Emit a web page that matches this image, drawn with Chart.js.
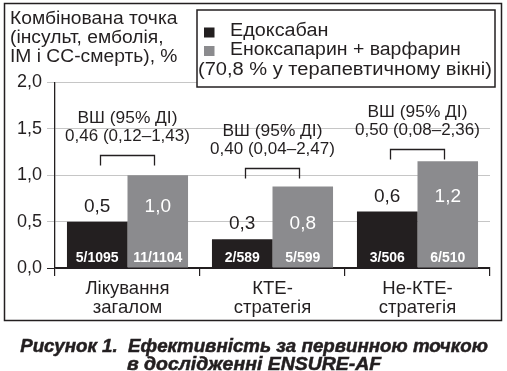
<!DOCTYPE html>
<html>
<head>
<meta charset="utf-8">
<script src="https://cdn.jsdelivr.net/npm/chart.js@4"></script>
<style>
  html, body { margin: 0; padding: 0; background: #fff; }
  canvas { display: block; }
</style>
</head>
<body>
<canvas id="chart" width="507" height="371"></canvas>
<script>
// data
const categories = [['Лікування', 'загалом'], ['КТЕ-', 'стратегія'], ['Не-КТЕ-', 'стратегія']];
const edoxaban = [0.5, 0.31, 0.61];
const enoxWarfarin = [1.0, 0.88, 1.15];
const edoxLabels = ['0,5', '0,3', '0,6'];
const enoxLabels = ['1,0', '0,8', '1,2'];
const edoxEvents = ['5/1095', '2/589', '3/506'];
const enoxEvents = ['11/1104', '5/599', '6/510'];
const orValues = ['0,46 (0,12–1,43)', '0,40 (0,04–2,47)', '0,50 (0,08–2,36)'];
const bracketLevel = [1.22, 1.08, 1.28];
const yTicks = [0, 0.5, 1, 1.5, 2];

const dark = '#231f20';
const grey = '#8b8b8e';
const FONT = '"Liberation Sans", Arial, sans-serif';

// text drawn a bit wider, the print font is broader than Arial
function wideText(ctx, txt, x, y, sx) {
  ctx.save();
  ctx.translate(x, y);
  ctx.scale(sx, 1);
  ctx.fillText(txt, 0, 0);
  ctx.restore();
}

const overlay = {
  id: 'overlay',
  afterDatasetsDraw(chart) {
    const ctx = chart.ctx;
    const x = chart.scales.x, y = chart.scales.y;
    const m0 = chart.getDatasetMeta(0), m1 = chart.getDatasetMeta(1);
    ctx.save();
    ctx.textAlign = 'center';
    ctx.textBaseline = 'middle';
    categories.forEach((c, i) => {
      const b0 = m0.data[i], b1 = m1.data[i];
      const ly = b0.y - 15;
      ctx.font = '19px ' + FONT;
      ctx.fillStyle = dark;
      ctx.fillText(edoxLabels[i], b0.x, ly);
      ctx.fillStyle = '#fff';
      ctx.fillText(enoxLabels[i], b1.x, ly);
      ctx.font = 'bold 14px ' + FONT;
      ctx.fillText(edoxEvents[i], b0.x, y.bottom - 10);
      ctx.fillText(enoxEvents[i], b1.x, y.bottom - 10);

      // OR bracket
      const cx = x.getPixelForValue(i);
      const by = Math.round(y.getPixelForValue(bracketLevel[i])) + 0.5;
      ctx.strokeStyle = dark;
      ctx.lineWidth = 1.3;
      ctx.beginPath();
      ctx.moveTo(cx - 27, by + 10);
      ctx.lineTo(cx - 27, by);
      ctx.lineTo(cx + 27, by);
      ctx.lineTo(cx + 27, by + 10);
      ctx.stroke();
      ctx.font = '17px ' + FONT;
      ctx.fillStyle = dark;
      wideText(ctx, 'ВШ (95% ДІ)', cx, by - 37.5, 1.02);
      ctx.fillText(orValues[i], cx, by - 19);
    });
    ctx.restore();
  },
  afterDraw(chart) {
    const ctx = chart.ctx;
    ctx.save();
    // outer frame
    ctx.strokeStyle = dark;
    ctx.lineWidth = 1.5;
    ctx.strokeRect(4.5, 3.5, 497, 317);

    // y title
    ctx.fillStyle = dark;
    ctx.textAlign = 'left';
    ctx.textBaseline = 'alphabetic';
    ctx.font = '17.5px ' + FONT;
    wideText(ctx, 'Комбінована точка', 10, 23.5, 1.1);
    wideText(ctx, '(інсульт, емболія,', 10, 42.5, 1.1);
    wideText(ctx, 'ІМ і СС-смерть), %', 10, 61.5, 1.1);

    // legend box
    ctx.fillStyle = '#fff';
    ctx.fillRect(197, 10, 298, 77);
    ctx.strokeRect(197, 10, 298, 77);
    const ds = chart.data.datasets;
    ctx.fillStyle = ds[0].backgroundColor;
    ctx.fillRect(204, 27.5, 10.5, 10);
    ctx.fillStyle = ds[1].backgroundColor;
    ctx.fillRect(204, 46, 10.5, 10);
    ctx.fillStyle = dark;
    ctx.font = '18px ' + FONT;
    wideText(ctx, ds[0].label, 230, 35.5, 1.1);
    wideText(ctx, ds[1].label, 230, 55, 1.08);
    wideText(ctx, '(70,8 % у терапевтичному вікні)', 198, 74.5, 1.115);

    // caption
    ctx.textAlign = 'center';
    ctx.font = 'italic bold 18px ' + FONT;
    ctx.strokeStyle = dark;
    ctx.lineWidth = 0.5;
    const cap = ['Рисунок 1.  Ефективність за первинною точкою', 'в дослідженні ENSURE-AF'];
    [[cap[0], 352, 1.04], [cap[1], 369.5, 1.08]].forEach(([t, yy, sx]) => {
      ctx.save();
      ctx.translate(254, yy);
      ctx.scale(sx, 1);
      ctx.fillText(t, 0, 0);
      ctx.strokeText(t, 0, 0);
      ctx.restore();
    });
    ctx.restore();
  }
};

new Chart(document.getElementById('chart'), {
  type: 'bar',
  data: {
    labels: categories,
    datasets: [
      { label: 'Едоксабан', data: edoxaban, backgroundColor: dark },
      { label: 'Еноксапарин + варфарин', data: enoxWarfarin, backgroundColor: grey }
    ]
  },
  options: {
    responsive: false,
    animation: false,
    layout: { padding: { top: 82.5, right: 17, left: 0, bottom: 0 } },
    datasets: { bar: { categoryPercentage: 0.835, barPercentage: 1, borderWidth: 0 } },
    plugins: { legend: { display: false }, tooltip: { enabled: false } },
    scales: {
      x: {
        afterFit: s => { s.height = 103; },
        grid: { offset: true, drawOnChartArea: false, color: dark, tickLength: 8, lineWidth: 1.2 },
        border: { color: dark, width: 1.3 },
        ticks: { color: dark, font: { family: FONT, size: 18.5, lineHeight: 1.03 }, padding: 3, maxRotation: 0 }
      },
      y: {
        min: 0,
        max: 2,
        afterFit: s => { s.width = 55; },
        afterBuildTicks: s => { s.ticks = yTicks.map(v => ({ value: v })); },
        grid: {
          color: c => (c.tick && c.tick.value === 0) ? dark : '#c6c6c6',
          tickLength: 8,
          lineWidth: 1
        },
        border: { color: dark, width: 1.3 },
        ticks: {
          color: dark,
          padding: 5,
          font: { family: FONT, size: 18 },
          callback: v => v.toFixed(1).replace('.', ',')
        }
      }
    }
  },
  plugins: [overlay]
});
</script>
</body>
</html>
